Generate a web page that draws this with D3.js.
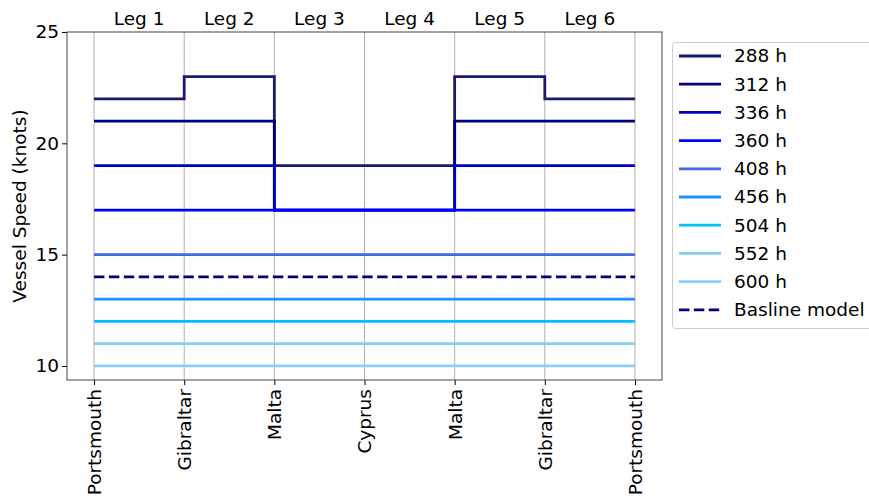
<!DOCTYPE html>
<html>
<head>
<meta charset="utf-8">
<script src="https://cdn.jsdelivr.net/npm/d3@7"></script>
<style>
  body { margin: 0; background: #fff; }
  text { font-family: "DejaVu Sans", sans-serif; }
</style>
</head>
<body>
<div id="content"></div>
<script>
// ports along the route, and the legs between them
var ports = ["Portsmouth", "Gibraltar", "Malta", "Cyprus", "Malta", "Gibraltar", "Portsmouth"];
var legs = ["Leg 1", "Leg 2", "Leg 3", "Leg 4", "Leg 5", "Leg 6"];
var yTicks = [10, 15, 20, 25];

// speed per leg for each voyage duration
var seriesNames = ["288 h", "312 h", "336 h", "360 h", "408 h", "456 h", "504 h", "552 h", "600 h"];
var seriesColors = ["#191970", "#000080", "#0000CD", "#0000FF", "#4169E1", "#1E90FF", "#00BFFF", "#87CEEB", "#87CEFA"];
var speeds = [
  [22, 23, 19, 19, 23, 22],
  [21, 21, 17, 17, 21, 21],
  [19, 19, 17, 17, 19, 19],
  [17, 17, 17, 17, 17, 17],
  [15, 15, 15, 15, 15, 15],
  [13, 13, 13, 13, 13, 13],
  [12, 12, 12, 12, 12, 12],
  [11, 11, 11, 11, 11, 11],
  [10, 10, 10, 10, 10, 10]
];
var baselineName = "Basline model";
var baselineSpeed = [14, 14, 14, 14, 14, 14];

var width = 869, height = 497;
var mLeft = 67, mRight = 662, mTop = 32, mBottom = 380;
var fs = 18.5;

var svg = d3.select("#content").append("svg")
  .attr("width", width)
  .attr("height", height);

var x = d3.scaleLinear().domain([-0.3, 6.3]).range([mLeft, mRight]);
var y = d3.scaleLinear().domain([9.37, 25]).range([mBottom, mTop]);

// vertical grid
svg.append("g").selectAll("line")
  .data(d3.range(ports.length))
  .enter().append("line")
  .attr("x1", d => x(d)).attr("x2", d => x(d))
  .attr("y1", mTop).attr("y2", mBottom)
  .attr("stroke", "#b0b0b0")
  .attr("stroke-width", 1);

// step lines (value holds across each leg)
var stepLine = d3.line()
  .x(d => x(d[0]))
  .y(d => y(d[1]))
  .curve(d3.curveStepAfter);

function stepPoints(vals) {
  var pts = vals.map((v, i) => [i, v]);
  pts.push([vals.length, vals[vals.length - 1]]);
  return pts;
}

speeds.forEach(function(vals, i) {
  svg.append("path")
    .datum(stepPoints(vals))
    .attr("d", stepLine)
    .attr("fill", "none")
    .attr("stroke", seriesColors[i])
    .attr("stroke-width", 2.8);
});

svg.append("path")
  .datum(stepPoints(baselineSpeed))
  .attr("d", stepLine)
  .attr("fill", "none")
  .attr("stroke", "#000080")
  .attr("stroke-width", 2.8)
  .attr("stroke-dasharray", "10.4,4.5");

// axes
var yAxis = d3.axisLeft(y).tickValues(yTicks).tickSize(5).tickPadding(3);
var gy = svg.append("g").attr("transform", "translate(" + mLeft + ",0)").call(yAxis);
gy.attr("font-size", null).attr("font-family", null);
gy.selectAll("text").attr("font-size", fs).attr("fill", "#000");
gy.select(".domain").remove();

var xAxis = d3.axisBottom(x).tickValues(d3.range(ports.length)).tickFormat(d => ports[d]).tickSize(5).tickPadding(3);
var gx = svg.append("g").attr("transform", "translate(0," + mBottom + ")").call(xAxis);
gx.attr("font-size", null).attr("font-family", null);
gx.select(".domain").remove();
gx.selectAll("text")
  .attr("font-size", fs).attr("fill", "#000")
  .attr("transform", "rotate(-90)")
  .attr("text-anchor", "end")
  .attr("x", -9).attr("y", 0).attr("dy", "0.35em");

// top leg labels
svg.append("g").selectAll("text")
  .data(legs)
  .enter().append("text")
  .attr("x", (d, i) => x(i + 0.5))
  .attr("y", mTop - 7)
  .attr("text-anchor", "middle")
  .attr("font-size", fs)
  .text(d => d);

// frame
svg.append("rect")
  .attr("x", mLeft).attr("y", mTop)
  .attr("width", mRight - mLeft).attr("height", mBottom - mTop)
  .attr("fill", "none").attr("stroke", "#444").attr("stroke-width", 1);

svg.append("text")
  .attr("transform", "translate(26," + ((mTop + mBottom) / 2) + ") rotate(-90)")
  .attr("text-anchor", "middle")
  .attr("font-size", fs)
  .text("Vessel Speed (knots)");

// legend
var lg = svg.append("g").attr("transform", "translate(672,42)");
lg.append("rect")
  .attr("x", 0.5).attr("y", 0.5).attr("width", 210).attr("height", 286)
  .attr("rx", 3)
  .attr("fill", "#fff").attr("stroke", "#ccc");

var items = seriesNames.map((n, i) => ({ name: n, color: seriesColors[i], dash: null }));
items.push({ name: baselineName, color: "#000080", dash: "10.4,4.5" });

items.forEach(function(it, i) {
  var yy = 14 + i * 28.2;
  lg.append("line")
    .attr("x1", 7).attr("x2", 49).attr("y1", yy).attr("y2", yy)
    .attr("stroke", it.color).attr("stroke-width", 2.8)
    .attr("stroke-dasharray", it.dash);
  lg.append("text")
    .attr("x", 62).attr("y", yy).attr("dy", "0.35em")
    .attr("font-size", fs)
    .text(it.name);
});
</script>
</body>
</html>
